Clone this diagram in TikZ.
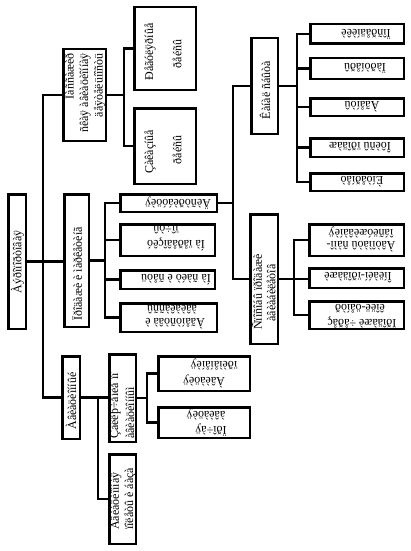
\documentclass[tikz,border=0pt]{standalone}
\usepackage{fontspec}
\setmainfont{Liberation Serif}
\begin{document}
\begin{tikzpicture}[x=1pt,y=-1pt,
  bx/.style={draw, line width=2.5pt, inner sep=0pt},
  conn/.style={line width=2.5pt, line cap=rect},
  lab/.style={inner sep=0pt, font=\fontsize{12}{14.5}\selectfont},
  vtxt/.style={lab, rotate=90},
  ftxt/.style={lab, rotate=180}]
\useasboundingbox (0,0) rectangle (411,551);
% boxes
\node[bx, minimum width=17.5pt, minimum height=134.5pt] (root) at (17,261.5) {};
\node[bx, minimum width=42.5pt, minimum height=91.5pt] (A) at (84.5,95) {};
\node[bx, minimum width=24.5pt, minimum height=132.5pt] (B) at (76.5,260.5) {};
\node[bx, minimum width=17.5pt, minimum height=82.5pt] (C) at (71,397.5) {};
\node[bx, minimum width=61.5pt, minimum height=82.5pt] (AC1) at (165,48.5) {};
\node[bx, minimum width=61.5pt, minimum height=75.5pt] (AC2) at (165,146) {};
\node[bx, minimum width=96.5pt, minimum height=17.5pt] (D1) at (168.5,203) {};
\node[bx, minimum width=94.5pt, minimum height=31.5pt] (D2) at (167.5,240) {};
\node[bx, minimum width=94.5pt, minimum height=18.5pt] (D3) at (167.5,279.5) {};
\node[bx, minimum width=96.5pt, minimum height=28.5pt] (D4) at (168.5,317.5) {};
\node[bx, minimum width=26.5pt, minimum height=95.5pt] (F1) at (264.5,86) {};
\node[bx, minimum width=27.5pt, minimum height=129.5pt] (F2) at (264,279) {};
\node[bx, minimum width=93.5pt, minimum height=19.5pt] (G1) at (357,34) {};
\node[bx, minimum width=93.5pt, minimum height=20.5pt] (G2) at (357,68.5) {};
\node[bx, minimum width=93.5pt, minimum height=17.5pt] (G3) at (357,107) {};
\node[bx, minimum width=93.5pt, minimum height=18.5pt] (G4) at (357,147.5) {};
\node[bx, minimum width=93.5pt, minimum height=17.5pt] (G5) at (357,182) {};
\node[bx, minimum width=94.5pt, minimum height=31.5pt] (H1) at (356.5,240) {};
\node[bx, minimum width=94.5pt, minimum height=19.5pt] (H2) at (356.5,278) {};
\node[bx, minimum width=94.5pt, minimum height=27.5pt] (H3) at (356.5,315) {};
\node[bx, minimum width=26.5pt, minimum height=87.5pt] (CC1) at (122.5,398) {};
\node[bx, minimum width=26.5pt, minimum height=89.5pt] (CC2) at (122.5,499) {};
\node[bx, minimum width=91.5pt, minimum height=34.5pt] (J1) at (204,373.5) {};
\node[bx, minimum width=91.5pt, minimum height=30.5pt] (J2) at (204,422.5) {};
% junction columns
\coordinate (tr) at (43,0);
\coordinate (ja) at (124,0);
\coordinate (jb) at (105,0);
\coordinate (jd) at (233,0);
\coordinate (jf) at (297,0);
\coordinate (jh) at (294,0);
\coordinate (jc) at (98,0);
\coordinate (jj) at (147,0);
% connectors
\draw[conn] (root.east) -- (root.east -| B.west);
\draw[conn] (A.west) -| (tr |- C.west) -- (C.west);
\draw[conn] (A.east) -- (A.east -| ja);
\draw[conn] (AC1.west) -| (ja |- AC2.west) -- (AC2.west);
\draw[conn] (B.east) -- (B.east -| jb);
\draw[conn] (D1.west) -| (jb |- D4.west) -- (D4.west);
\draw[conn] (D2.west) -- (D2.west -| jb);
\draw[conn] (D3.west) -- (D3.west -| jb);
\draw[conn] (D1.east) -- (D1.east -| jd);
\draw[conn] (F1.west) -| (jd |- F2.west) -- (F2.west);
\draw[conn] (F1.east) -- (F1.east -| jf);
\draw[conn] (G1.west) -| (jf |- G5.west) -- (G5.west);
\draw[conn] (G2.west) -- (G2.west -| jf);
\draw[conn] (G3.west) -- (G3.west -| jf);
\draw[conn] (G4.west) -- (G4.west -| jf);
\draw[conn] (F2.east) -- (F2.east -| H2.west);
\draw[conn] (H1.west) -| (jh |- H3.west) -- (H3.west);
\draw[conn] (C.east) -- (C.east -| CC1.west);
\draw[conn] (jc |- C.east) |- (CC2.west);
\draw[conn] (CC1.east) -- (CC1.east -| jj);
\draw[conn] (J1.west) -| (jj |- J2.west) -- (J2.west);
% texts
\node[vtxt] (tRoot) at (17.5,262) {Àýðîïîðòîâàÿ};
\node[vtxt, align=right] (tA) at (84.5,93) {Ïàññàæèð\\ñêàÿ àâèàöèîííàÿ\\äåÿòåëüíîñòü};
\node[vtxt] (tAC1a) at (150,52) {Ðåãóëÿðíûå};
\node[vtxt] (tAC1b) at (177,54) {ðåéñû};
\node[vtxt] (tAC2a) at (150,152) {Çàêàçíûå};
\node[vtxt] (tAC2b) at (177,150) {ðåéñû};
\node[vtxt] (tB) at (77,274) {Ïðîäàæè è ìàðêåòèíã};
\node[vtxt] (tC) at (71,401) {Àâèàöèîííûé};
\node[vtxt, anchor=west] (tCC1a) at (115,439) {Çàêëþ÷åíèå ïî};
\node[vtxt, anchor=west] (tCC1b) at (130,439) {àâèàöèîííûì};
\node[vtxt, anchor=west] (tCC2a) at (115,530) {Àâèàöèîííàÿ};
\node[vtxt, anchor=west] (tCC2b) at (130,530) {ïîëåòû è áàçà};
\node[vtxt] (tF1) at (265,90) {Êàíàë ñáûòà};
\node[vtxt] (tF2a) at (257,292) {Ñïîñîáû ïðîäàæè};
\node[vtxt] (tF2b) at (271,293) {àâèàáèëåòîâ};
\node[ftxt] (tD1) at (178,203) {Äèñòðèáóöèÿ};
\node[ftxt] (tD2a) at (176,244) {Íà ïåðåâîçêó};
\node[ftxt] (tD2b) at (166,230) {ïî÷òû};
\node[ftxt] (tD3) at (176,279.5) {Íà ñàéò è ñåòü};
\node[ftxt] (tD4a) at (175,324) {Àãåíòñòâà è};
\node[ftxt] (tD4b) at (172,310) {àâèàêàññû};
\node[ftxt] (tG1) at (366,34) {Ïîñðåäíèêè};
\node[ftxt] (tG2) at (365,68.5) {Ïàðòíåðû};
\node[ftxt] (tG3) at (362,107) {Àãåíòû};
\node[ftxt] (tG4) at (360,147.5) {Îôèñû ïðîäàæ};
\node[ftxt] (tG5) at (362,182) {Èíòåðíåò};
\node[ftxt] (tH1a) at (361,246.5) {Àâòîìàòû ñàìî-};
\node[ftxt] (tH1b) at (361,232) {îáñëóæèâàíèÿ};
\node[ftxt] (tH2) at (358,278) {Îíëàéí-ïðîäàæè};
\node[ftxt] (tH3a) at (362,323) {Ïðîäàæè ÷åðåç};
\node[ftxt] (tH3b) at (360,308.5) {êîëë-öåíòð};
\node[ftxt] (tJ1a) at (204,381) {Àâèàöèÿ};
\node[ftxt] (tJ1b) at (214,365) {ïðèìåíåíèÿ};
\node[ftxt] (tJ2a) at (211,430) {Ïðî÷àÿ};
\node[ftxt] (tJ2b) at (206,414) {àâèàöèÿ};
\end{tikzpicture}
\end{document}
